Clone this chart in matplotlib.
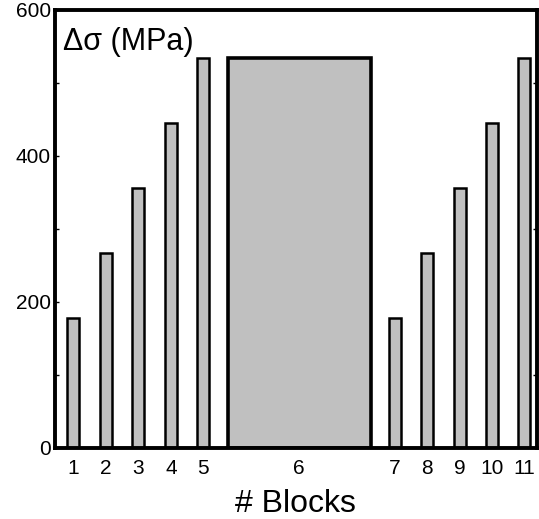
import numpy as np
import matplotlib.pyplot as plt
from matplotlib.ticker import MultipleLocator

plt.rcParams["font.family"] = ["Liberation Sans", "DejaVu Sans"]

# block labels and stress amplitudes (MPa)
blocks = ["1", "2", "3", "4", "5", "6", "7", "8", "9", "10", "11"]
stress = [178, 267, 356, 445, 534, 534, 178, 267, 356, 445, 534]
# block 6 is the long block, drawn wide
widths = [0.37] * 5 + [4.4] + [0.37] * 5
xpos = [1, 2, 3, 4, 5, 7.95, 10.9, 11.9, 12.9, 13.9, 14.87]

fig = plt.figure(figsize=(5.39, 5.19), dpi=100)
ax = fig.add_axes([0.102, 0.137, 0.894, 0.844])

bars = ax.bar(xpos, stress, width=widths, color="#c0c0c0", edgecolor="black",
              linewidth=1.8, zorder=2)
bars[5].set_linewidth(2.6)

ax.set_xlim(0.43, 15.27)
ax.set_ylim(0, 600)
ax.set_yticks([0, 200, 400, 600])
ax.yaxis.set_minor_locator(MultipleLocator(100))
ax.set_xticks(xpos)
ax.set_xticklabels(blocks)
ax.tick_params(axis="both", which="major", labelsize=15, direction="in",
               length=3, width=1, pad=4)
ax.tick_params(axis="y", which="major", pad=3)
ax.tick_params(axis="y", which="minor", direction="in", length=3, width=1,
               right=True)
ax.tick_params(axis="x", length=0, pad=8)

for s in ax.spines.values():
    s.set_linewidth(2.8)

ax.text(0.016, 0.962, "Δσ (MPa)", transform=ax.transAxes, fontsize=22,
        ha="left", va="top")
ax.set_xlabel("# Blocks", fontsize=23, labelpad=8)

plt.savefig("out.png", dpi=100)
plt.close()
